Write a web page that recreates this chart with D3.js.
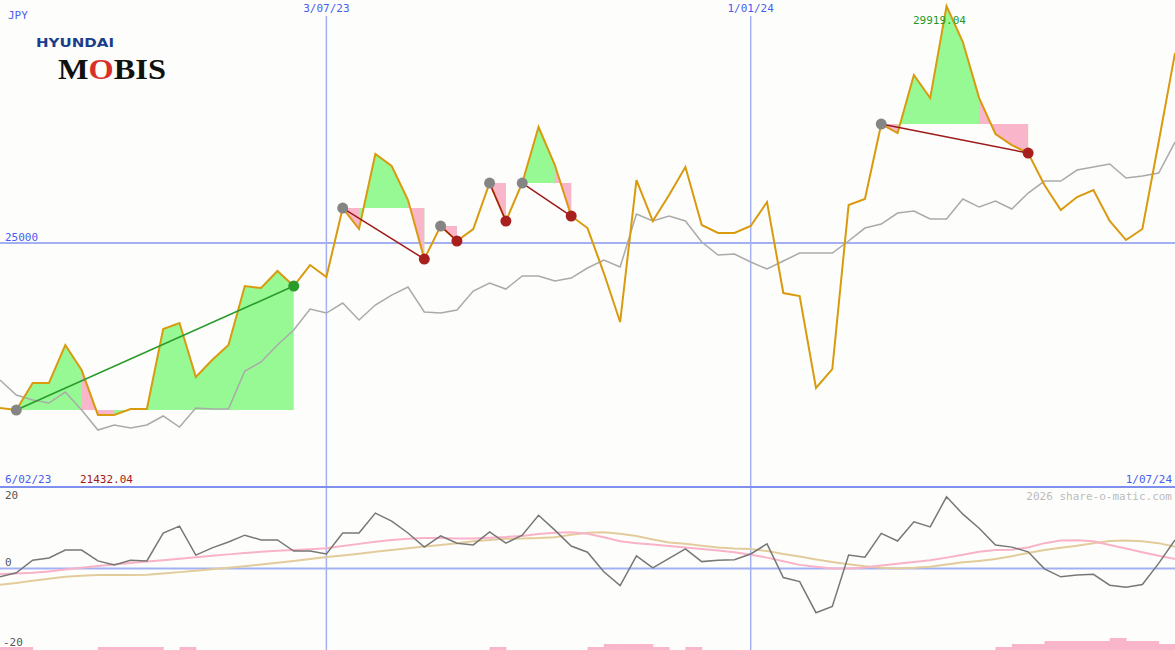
<!DOCTYPE html>
<html><head><meta charset="utf-8">
<script src="https://cdn.jsdelivr.net/npm/d3@7"></script>
<style>body{margin:0;background:#fdfefb}svg{display:block}text{font-family:"DejaVu Sans Mono",monospace;font-size:11px}</style>
</head><body><svg id="c" width="1175" height="650"></svg>
<script>
const price=[21575,21533,22094,22094,22882,22363,21432.04,21432.04,21554,21554,23215,23339,22218,22571,22882,24107,24066,24419,24107,24543,24294,25727,25291,26848,26599,25893,24668,25353,25042,25291,26246,25457,26246,27408,26619,25561,25311,24377,23360,26308,25457,25996,26578,25374,25208,25208,25353,25851,23962,23900,21990,22384,25789,25913,27470,27284,28488,28010,29919.04,29173,28010,27263,27034,26868,26204,25685,25955,26100,25457,25062,25291,27097,28944];
const avg=[22156,21844,21741,21678,21907,21533,21118,21222,21159,21222,21409,21180,21575,21554,21554,22343,22530,22882,23194,23630,23547,23754,23401,23713,23920,24087,23568,23547,23609,24004,24170,24045,24315,24315,24211,24273,24481,24647,24502,25602,25457,25561,25457,25021,24751,24772,24606,24460,24626,24792,24792,24792,25042,25311,25394,25623,25664,25498,25498,25913,25747,25872,25706,26038,26287,26287,26515,26578,26640,26349,26391,26453,27097];
const osc=[-2.3,-1.2,2.3,2.9,5.1,5.1,2.1,1.0,2.3,2.1,9.8,11.7,3.7,5.7,7.3,9.2,7.9,7.9,4.8,4.8,4.0,9.8,9.8,15.3,13.1,9.8,5.9,9.0,7.0,6.5,10.1,7.0,9.2,14.7,10.6,6.2,4.5,-0.9,-4.7,3.5,0.2,2.8,5.4,1.9,2.3,2.4,4.0,6.8,-2.5,-3.6,-12.2,-10.5,3.7,3.1,9.7,7.6,12.9,11.5,19.8,15.0,11.1,6.5,5.9,4.6,-0.1,-2.3,-1.8,-1.6,-4.6,-5.2,-4.4,1.4,7.9];
const oscPink=[-1.5,-1.4,-1.2,-0.8,-0.3,0.2,0.7,1.1,1.5,1.9,2.3,2.7,3.1,3.5,3.9,4.3,4.6,4.9,5.1,5.3,5.6,6.2,6.8,7.4,7.9,8.2,8.4,8.4,8.3,8.3,8.5,8.7,9.0,9.5,9.9,10.0,9.6,8.6,7.5,7.0,6.6,6.2,5.8,5.4,5.0,4.5,3.8,3.0,2.0,1.0,0.5,0.0,0.0,0.3,0.8,1.3,1.8,2.3,3.0,3.8,4.6,5.1,5.2,5.8,7.0,7.7,7.8,7.5,6.5,5.5,4.5,3.5,2.6];
const oscTan=[-4.5,-4,-3.4,-2.8,-2.3,-2.0,-1.8,-1.8,-1.8,-1.7,-1.4,-1.0,-0.6,-0.2,0.2,0.6,1.1,1.6,2.1,2.6,3.2,3.6,4.1,4.6,5.1,5.6,6.1,6.5,7.0,7.5,7.9,8.2,8.3,8.4,8.6,9.3,9.9,10.0,9.6,9.0,8.0,7.2,6.8,6.3,5.8,5.5,5.4,4.8,4.0,3.3,2.5,1.8,1.2,0.6,0.2,0.0,0.2,0.5,1.1,1.7,2.1,2.6,3.4,4.3,5.1,5.7,6.3,7.0,7.6,7.7,7.5,7.0,6.0];
const bars=[1,1,0,0,0,0,1,1,1,1,0,1,0,0,0,0,0,0,0,0,0,0,0,0,0,0,0,0,0,0,1,0,0,0,0,0,1,2,2,2,1,0,1,0,0,0,0,0,0,0,0,0,0,0,0,0,0,0,0,0,0,1,2,2,3,3,3,3,4,3,3,2,2];
const swingStart=[1,21,27,30,32,54];
const swingEnd=[18,26,28,31,35,63];
const swingPink=[[[5,7]],[[21,22],[25,26]],[[27,28]],[[30,31]],[[34,35]],[[54,55],[60,63]]];
const dateTicks=[{i:20,t:"3/07/23"},{i:46,t:"1/01/24"}];
const level=25000;

const svg=d3.select("#c");
const W=1175;
const x=d3.scaleLinear().domain([0,price.length-1]).range([0,W]);
const y=d3.scaleLinear().domain([21000,30000]).range([435.7,2.2]);
const y2=d3.scaleLinear().domain([-22.5,22.5]).range([650,487]);
const blue="#a3b1f3", txtBlue="#4a5cf0";

svg.append("g").selectAll("rect").data(bars.map((v,i)=>({v,i})).filter(d=>d.v>0)).join("rect")
 .attr("x",d=>x(d.i)).attr("width",x(1)-x(0)+0.5).attr("y",d=>650-d.v*3).attr("height",d=>d.v*3).attr("fill","#f9b5c9");

dateTicks.forEach(d=>{
 svg.append("line").attr("x1",x(d.i)).attr("x2",x(d.i)).attr("y1",16).attr("y2",650).attr("stroke",blue).attr("stroke-width",1.5);
 svg.append("text").attr("x",x(d.i)).attr("y",12).attr("text-anchor","middle").attr("fill",txtBlue).text(d.t);
});
svg.append("line").attr("x1",0).attr("x2",W).attr("y1",y(level)).attr("y2",y(level)).attr("stroke",blue).attr("stroke-width",2);
svg.append("line").attr("x1",0).attr("x2",W).attr("y1",y2(0)).attr("y2",y2(0)).attr("stroke",blue).attr("stroke-width",2);
svg.append("line").attr("x1",0).attr("x2",W).attr("y1",487).attr("y2",487).attr("stroke","#7f8fee").attr("stroke-width",2);

swingStart.forEach((s,k)=>{
 const e=swingEnd[k], base=price[s];
 const area=d3.area().x(i=>x(i)).y0(y(base)).y1(i=>y(price[i]));
 svg.append("path").attr("d",area(d3.range(s,e+1))).attr("fill","#96f994");
 swingPink[k].forEach(([a,b])=>svg.append("path").attr("d",area(d3.range(a,b+1))).attr("fill","#f9b5c9"));
});

svg.append("path").attr("d",d3.line().x((d,i)=>x(i)).y(d=>y(d))(avg)).attr("fill","none").attr("stroke","#aaaaaa").attr("stroke-width",1.5);
svg.append("path").attr("d",d3.line().x((d,i)=>x(i)).y(d=>y(d))(price)).attr("fill","none").attr("stroke","#d99a0e").attr("stroke-width",2);

swingStart.forEach((s,k)=>{
 const e=swingEnd[k], up=price[e]>price[s], col=up?"#2a9a2a":"#a8201e";
 svg.append("line").attr("x1",x(s)).attr("y1",y(price[s])).attr("x2",x(e)).attr("y2",y(price[e])).attr("stroke",up?"#2a9a2a":"#9e1a1a").attr("stroke-width",1.5);
 svg.append("circle").attr("cx",x(s)).attr("cy",y(price[s])).attr("r",5.5).attr("fill","#858585");
 svg.append("circle").attr("cx",x(e)).attr("cy",y(price[e])).attr("r",5.5).attr("fill",col);
});

const l2=d3.line().x((d,i)=>x(i)).y(d=>y2(d));
svg.append("path").attr("d",l2(oscTan)).attr("fill","none").attr("stroke","#e3cc9c").attr("stroke-width",2);
svg.append("path").attr("d",l2(oscPink)).attr("fill","none").attr("stroke","#f9b2c8").attr("stroke-width",2);
svg.append("path").attr("d",l2(osc)).attr("fill","none").attr("stroke","#777").attr("stroke-width",1.5);

const T=(xx,yy,t,c,a)=>svg.append("text").attr("x",xx).attr("y",yy).attr("fill",c).attr("text-anchor",a||"start").text(t);
T(8,19,"JPY",txtBlue);
T(5,241,String(level),txtBlue);
T(5,483,"6/02/23",txtBlue);
T(80,483,d3.min(price).toFixed(2),"#a01818");
T(1172,483,"1/07/24",txtBlue,"end");
T(913,24,d3.max(price).toFixed(2),"#1f9a1f");
T(1172,500,"2026 share-o-matic.com","#bbbbbb","end");
T(5,499,"20","#555");T(5,566,"0","#555");T(3,646,"-20","#555");

svg.append("text").attr("x",36).attr("y",47).attr("fill","#1b3e8c").style("font-family","'DejaVu Sans'").style("font-size","13px").style("font-weight","bold").attr("textLength",78).attr("lengthAdjust","spacingAndGlyphs").text("HYUNDAI");
const m=svg.append("text").attr("x",58).attr("y",79).attr("fill","#111").style("font-family","'Liberation Serif',serif").style("font-size","30px").style("font-weight","bold").attr("textLength",108).attr("lengthAdjust","spacingAndGlyphs");
m.append("tspan").text("M");m.append("tspan").attr("fill","#d9302c").text("O");m.append("tspan").text("BIS");
</script></body></html>
